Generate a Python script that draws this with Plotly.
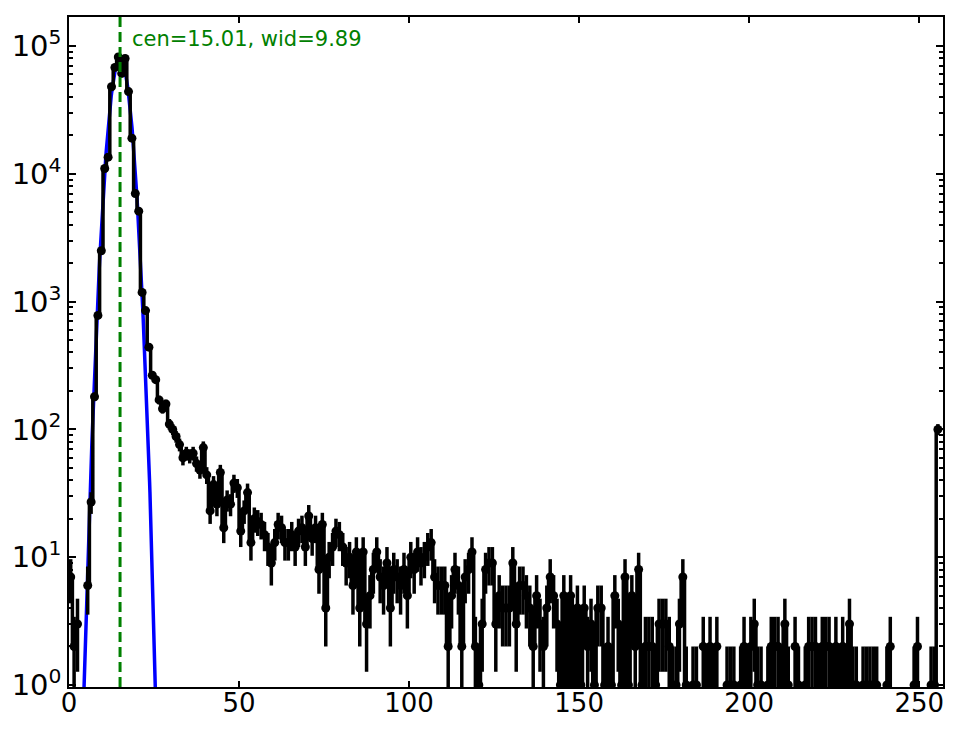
import numpy as np
import plotly.graph_objects as go

# histogram counts per bin (bin i plotted at i + 0.5)
counts = [
    7, 2, 3, 0, 0, 6, 27, 180, 780, 2500,
    11000, 13500, 48000, 68000, 82000, 61000, 80000, 44000, 19000, 7000,
    5100, 1180, 850, 440, 265, 245, 170, 145, 158, 110,
    100, 88, 76, 60, 65, 62, 65, 54, 48, 72,
    44, 23, 37, 26, 46, 17, 28, 26, 38, 35,
    16, 23, 32, 13, 20, 19, 18, 15, 12, 9,
    13, 18, 17, 13, 13, 15, 12, 16, 17, 12,
    21, 14, 17, 8, 18, 4, 10, 12, 16, 15,
    12, 9, 10, 6, 11, 4, 11, 3, 5, 8,
    11, 7, 6, 9, 4, 8, 7, 6, 8, 5,
    10, 8, 11, 9, 10, 12, 13, 7, 6, 6,
    6, 2, 5, 8, 6, 2, 7, 8, 11, 2,
    1, 3, 8, 9, 9, 3, 5, 4, 4, 4,
    9, 3, 6, 6, 5, 4, 2, 5, 3, 2,
    4, 7, 5, 3, 1, 5, 1, 5, 1, 4,
    1, 4, 2, 3, 1, 4, 4, 1, 2, 1,
    5, 3, 1, 7, 1, 5, 2, 8, 1, 2,
    2, 2, 1, 3, 3, 3, 2, 1, 1, 3,
    7, 1, 0, 1, 1, 0, 2, 1, 2, 1,
    2, 0, 0, 1, 1, 1, 0, 1, 2, 1,
    2, 3, 1, 1, 0, 1, 2, 2, 2, 1,
    3, 1, 0, 2, 1, 0, 1, 2, 2, 2,
    1, 2, 2, 2, 1, 2, 1, 2, 1, 3,
    1, 1, 0, 1, 1, 1, 1, 1, 0, 0,
    1, 2, 0, 0, 0, 0, 0, 0, 1, 2,
    0, 0, 0, 1, 1, 100,
]

fit_amp = 80000
fit_cen = 15.01
fit_wid = 9.89

y_ticks = [1, 10, 100, 1000, 10000, 100000]
y_tick_text = ['10<sup>%d</sup>' % k for k in range(6)]
x_ticks = [0, 50, 100, 150, 200, 250]

x = np.arange(len(counts)) + 0.5
y = np.array(counts, dtype=float)
y_plot = np.where(y > 0, y, np.nan)
err = np.sqrt(y)

xf = np.arange(0, 257, 0.1)
yf = fit_amp * np.exp(-(xf - fit_cen) ** 2 / fit_wid)
yf = np.where(yf > 1e-3, yf, np.nan)

fig = go.Figure()
fig.add_trace(go.Scatter(x=xf, y=yf, mode='lines',
                         line=dict(color='#0000ff', width=3.5),
                         showlegend=False, hoverinfo='skip'))
fig.add_trace(go.Scatter(x=x, y=y_plot, mode='lines+markers',
                         line=dict(color='black', width=3.5, shape='hvh'),
                         marker=dict(color='black', size=9),
                         error_y=dict(type='data', array=err, color='black',
                                      thickness=3.5, width=0),
                         showlegend=False))

fig.add_shape(type='line', x0=fit_cen, x1=fit_cen, y0=0, y1=1,
              xref='x', yref='paper', layer='above',
              line=dict(color='#008000', width=3, dash='10px,5px'))

fig.add_annotation(x=18.0, y=0.967, xref='x', yref='paper',
                   text='cen=%.2f, wid=%.2f' % (fit_cen, fit_wid),
                   showarrow=False, xanchor='left', yanchor='middle',
                   font=dict(color='#008000', size=21))

fig.update_layout(
    width=964, height=729,
    margin=dict(l=61, r=29, t=9, b=50),
    paper_bgcolor='white',
    plot_bgcolor='white',
    font=dict(family='DejaVu Sans', color='black', size=24),
    xaxis=dict(
        range=[0, 257],
        tickvals=x_ticks,
        ticks='inside', ticklen=6, tickwidth=1.5, tickcolor='black',
        showline=True, linecolor='black', linewidth=1.5, mirror='ticks',
        showgrid=False, zeroline=False, automargin=False,
        ticklabelstandoff=-8,
        tickfont=dict(size=26),
    ),
    yaxis=dict(
        type='log',
        range=[-0.016, 5.227],
        tickvals=y_ticks, ticktext=y_tick_text,
        ticks='inside', ticklen=7, tickwidth=1.5, tickcolor='black',
        showline=True, linecolor='black', linewidth=1.5, mirror='ticks',
        showgrid=False, zeroline=False, automargin=False,
        tickfont=dict(size=29),
        minor=dict(ticks='inside', ticklen=4, tickcolor='black',
                   tickvals=[m * 10 ** k for k in range(6) for m in range(2, 10)],
                   showgrid=False),
    ),
)

fig.write_html("out.html")
